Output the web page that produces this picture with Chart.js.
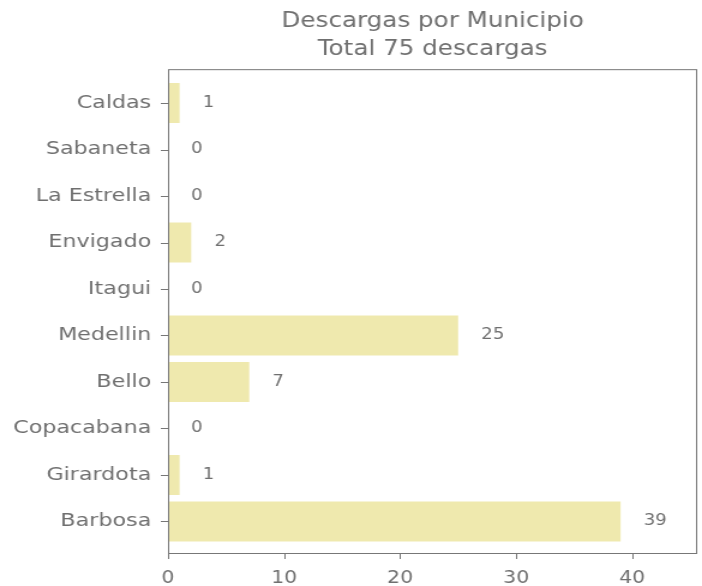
<!DOCTYPE html>
<html>
<head>
<meta charset="utf-8">
<script src="https://cdn.jsdelivr.net/npm/chart.js@4"></script>
<style>
  body { margin: 0; background: #fff; }
</style>
</head>
<body>
<!-- the reference text is a bit stretched sideways, so draw narrower and widen with css -->
<canvas id="chart" width="585" height="586" style="width:702px;height:586px;display:block"></canvas>
<script>
const municipios = ["Barbosa", "Girardota", "Copacabana", "Bello", "Medellin",
                    "Itagui", "Envigado", "La Estrella", "Sabaneta", "Caldas"];
const descargas = [39, 1, 0, 7, 25, 0, 2, 0, 0, 1];
const titleLines = ["Descargas por Municipio", "Total 75 descargas"];
const xTicks = [0, 10, 20, 30, 40];

const TEXT = '#6f6f6f';
const LINE = '#777777';
const FONT = "'DejaVu Sans', sans-serif";
const TICK = 6;

// box round the plot + the little tick marks
const frame = {
  id: 'frame',
  afterDraw(chart) {
    const a = chart.chartArea, ctx = chart.ctx;
    const xs = chart.scales.x, ys = chart.scales.y;
    ctx.save();
    ctx.strokeStyle = LINE;
    ctx.lineWidth = 1;
    ctx.strokeRect(a.left + 0.5, a.top + 0.5, a.right - a.left - 1, a.bottom - a.top);
    ctx.beginPath();
    xs.ticks.forEach(t => {
      const px = Math.round(xs.getPixelForValue(t.value)) + 0.5;
      ctx.moveTo(px, a.bottom);
      ctx.lineTo(px, a.bottom + TICK);
    });
    ys.ticks.forEach(t => {
      const py = Math.round(ys.getPixelForValue(t.value)) + 0.5;
      ctx.moveTo(a.left - TICK, py);
      ctx.lineTo(a.left, py);
    });
    ctx.stroke();
    ctx.restore();
  }
};

const valueLabels = {
  id: 'valueLabels',
  afterDatasetsDraw(chart) {
    const ctx = chart.ctx, xs = chart.scales.x, ys = chart.scales.y;
    ctx.save();
    ctx.fillStyle = TEXT;
    ctx.font = "15px " + FONT;
    ctx.textAlign = 'left';
    ctx.textBaseline = 'middle';
    descargas.forEach((v, i) => {
      ctx.fillText(String(v), xs.getPixelForValue(v + 2), ys.getPixelForValue(i));
    });
    ctx.restore();
  }
};

new Chart(document.getElementById('chart'), {
  type: 'bar',
  data: {
    datasets: [{
      data: descargas.map((v, i) => ({ x: v, y: i })),
      backgroundColor: 'rgba(238,232,170,0.95)',
      borderWidth: 0,
      barPercentage: 0.86,
      categoryPercentage: 1
    }]
  },
  options: {
    indexAxis: 'y',
    responsive: false,
    devicePixelRatio: 1,
    animation: false,
    layout: { padding: { left: 0, right: 4, top: 0, bottom: 0 } },
    plugins: {
      legend: { display: false },
      tooltip: { enabled: false },
      title: {
        display: true,
        fullSize: false,
        text: titleLines,
        color: TEXT,
        font: { family: FONT, size: 20.5, weight: 'normal', lineHeight: 1.37 },
        padding: { top: 8, bottom: 5 }
      }
    },
    scales: {
      x: {
        type: 'linear',
        min: 0,
        max: 45.6,
        afterBuildTicks: s => { s.ticks = xTicks.map(v => ({ value: v })); },
        afterFit: s => { s.height = 33; },
        border: { display: false },
        grid: { drawOnChartArea: false, drawTicks: true, tickLength: TICK, color: 'rgba(0,0,0,0)' },
        ticks: { color: TEXT, padding: 9, font: { family: FONT, size: 17 }, maxRotation: 0 }
      },
      y: {
        type: 'linear',
        min: -0.68,
        max: 9.73,
        offset: false,
        afterBuildTicks: s => { s.ticks = municipios.map((m, i) => ({ value: i })); },
        afterFit: s => { s.width = 140; },
        border: { display: false },
        grid: { offset: false, drawOnChartArea: false, drawTicks: true, tickLength: TICK, color: 'rgba(0,0,0,0)' },
        ticks: {
          color: TEXT,
          padding: 8,
          font: { family: FONT, size: 18.5 },
          callback: v => municipios[v]
        }
      }
    }
  },
  plugins: [frame, valueLabels]
});
</script>
</body>
</html>
